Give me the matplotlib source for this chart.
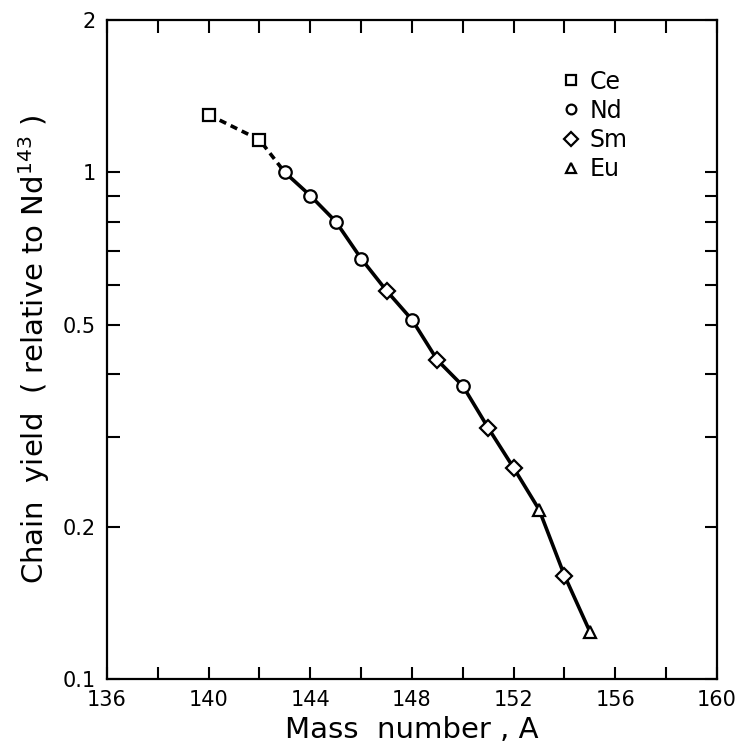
import matplotlib
matplotlib.use("Agg")
import matplotlib.pyplot as plt
from matplotlib.lines import Line2D
from matplotlib.ticker import FixedLocator, FixedFormatter, NullFormatter

# data
ce_mass = [140, 142]
ce_yield = [1.30, 1.16]
nd_mass = [143, 144, 145, 146, 148, 150]
nd_yield = [1.00, 0.90, 0.80, 0.676, 0.512, 0.379]
sm_mass = [147, 149, 151, 152, 154]
sm_yield = [0.584, 0.426, 0.313, 0.261, 0.160]
eu_mass = [153, 155]
eu_yield = [0.216, 0.124]

# curve through the points
dash_mass = [140, 142, 143]
dash_yield = [1.30, 1.16, 1.00]
curve_mass = [143, 144, 145, 146, 147, 148, 149, 150, 151, 152, 153, 154, 155]
curve_yield = [1.00, 0.90, 0.80, 0.676, 0.584, 0.512, 0.426, 0.379, 0.313, 0.261, 0.216, 0.160, 0.124]

plt.rcParams['font.family'] = ['DejaVu Sans']

fig = plt.figure(figsize=(7.41, 7.51), dpi=100)
ax = fig.add_axes([0.1444, 0.0959, 0.8232, 0.8775])

ax.plot(dash_mass, dash_yield, color='black', lw=2.6, ls=(0, (2.0, 1.4)), zorder=2)
ax.plot(curve_mass, curve_yield, color='black', lw=2.6, zorder=2)

mk = dict(ls='none', mfc='white', mec='black', mew=1.6, ms=9, zorder=3)
ax.plot(ce_mass, ce_yield, marker='s', **mk)
ax.plot(nd_mass, nd_yield, marker='o', **mk)
ax.plot(sm_mass, sm_yield, marker='D', **dict(mk, ms=8.5))
ax.plot(eu_mass, eu_yield, marker='^', **mk)

ax.set_yscale('log')
ax.set_xlim(136, 160)
ax.set_ylim(0.1, 2)

ax.set_xticks([136, 140, 144, 148, 152, 156, 160])
ax.set_xticks([138, 142, 146, 150, 154, 158], minor=True)
ax.yaxis.set_major_locator(FixedLocator([0.1, 0.2, 0.5, 1, 2]))
ax.yaxis.set_major_formatter(FixedFormatter(['0.1', '0.2', '0.5', '1', '2']))
ax.yaxis.set_minor_locator(FixedLocator([0.3, 0.4, 0.6, 0.7, 0.8, 0.9]))
ax.yaxis.set_minor_formatter(NullFormatter())

ax.tick_params(which='both', direction='in', top=True, right=True,
               width=1.5, labelsize=15, pad=8)
ax.tick_params(which='major', length=9)
ax.tick_params(which='minor', length=9)
for s in ax.spines.values():
    s.set_linewidth(1.6)

ax.set_xlabel('Mass  number , A', fontsize=21, labelpad=4)
ax.set_ylabel('Chain  yield  ( relative to Nd$^{143}$ )', fontsize=21, labelpad=8)

handles = [
    Line2D([], [], marker='s', ls='none', mfc='white', mec='black', mew=1.6, ms=7),
    Line2D([], [], marker='o', ls='none', mfc='white', mec='black', mew=1.6, ms=7),
    Line2D([], [], marker='D', ls='none', mfc='white', mec='black', mew=1.6, ms=7),
    Line2D([], [], marker='^', ls='none', mfc='white', mec='black', mew=1.6, ms=7),
]
ax.legend(handles, ['Ce', 'Nd', 'Sm', 'Eu'], loc='upper left',
          bbox_to_anchor=(0.71, 0.957), frameon=False, fontsize=17,
          handlelength=0.8, handletextpad=0.4, labelspacing=0.22)

fig.savefig('out.png', dpi=100)
